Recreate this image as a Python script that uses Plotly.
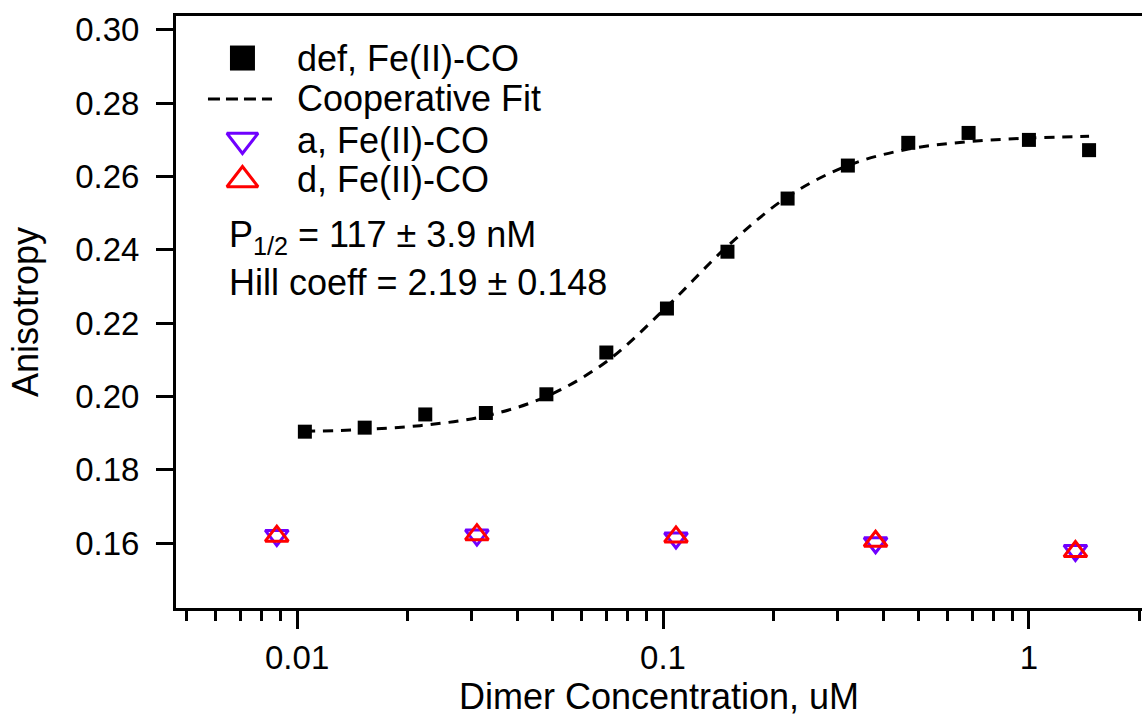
import plotly.graph_objects as go

# Dimer concentration (uM) for the def titration and its anisotropy readings
conc_def = [0.0105, 0.0153, 0.0224, 0.0328, 0.048, 0.070, 0.1025, 0.150,
            0.219, 0.320, 0.468, 0.684, 1.0, 1.46]
aniso_def = [0.1904, 0.1915, 0.1951, 0.1955, 0.2006, 0.2120, 0.2240, 0.2395,
             0.2540, 0.2630, 0.2692, 0.2719, 0.2700, 0.2672]

# Cooperative (Hill) fit curve sampled at the titration points
fit_conc = conc_def
fit_aniso = [0.1905, 0.1910, 0.1922, 0.1947, 0.2000, 0.2095, 0.2245, 0.2410,
             0.2545, 0.2630, 0.2675, 0.2695, 0.2705, 0.2710]

# Control titrations (a and d variants)
conc_ctrl = [0.0088, 0.031, 0.1085, 0.381, 1.34]
aniso_a = [0.1621, 0.1622, 0.1614, 0.1601, 0.1580]
aniso_d = [0.1619, 0.1623, 0.1617, 0.1605, 0.1577]

legend_labels = ["def, Fe(II)-CO", "Cooperative Fit", "a, Fe(II)-CO", "d, Fe(II)-CO"]
fit_text = ["P<sub>1/2</sub> = 117 ± 3.9 nM", "Hill coeff = 2.19 ± 0.148"]

x_ticks = [0.01, 0.1, 1]
x_ticktext = ["0.01", "0.1", "1"]
x_minor = [m * d for d in (0.001, 0.01, 0.1, 1) for m in range(2, 10)]
y_ticks = [0.16, 0.18, 0.20, 0.22, 0.24, 0.26, 0.28, 0.30]

PURPLE = "#7000FF"
RED = "#FF0000"
FONT = "Liberation Sans, Arial, sans-serif"
TEXT_SIZE = 36

fig = go.Figure()

fig.add_trace(go.Scatter(x=fit_conc, y=fit_aniso, mode="lines", line_shape="spline",
                         line=dict(color="black", width=3, dash="10px,8px"),
                         showlegend=False))
fig.add_trace(go.Scatter(x=conc_def, y=aniso_def, mode="markers",
                         marker=dict(symbol="square", size=14, color="black"),
                         showlegend=False))
fig.add_trace(go.Scatter(x=conc_ctrl, y=aniso_a, mode="markers",
                         marker=dict(symbol="triangle-down-open", size=20, color=PURPLE,
                                     line=dict(width=3, color=PURPLE)),
                         showlegend=False))
fig.add_trace(go.Scatter(x=conc_ctrl, y=aniso_d, mode="markers",
                         marker=dict(symbol="triangle-up-open", size=20, color=RED,
                                     line=dict(width=3, color=RED)),
                         showlegend=False))

# Legend key drawn on an overlay axis spanning the plot area (0..1 both ways)
key_x = 0.0688
key_rows = [0.929, 0.860, 0.7905, 0.723]
fig.add_trace(go.Scatter(x=[key_x], y=[key_rows[0]], xaxis="x2", yaxis="y2", mode="markers",
                         marker=dict(symbol="square", size=25, color="black"), showlegend=False))
fig.add_trace(go.Scatter(x=[0.0331, 0.0994], y=[key_rows[1]] * 2, xaxis="x2", yaxis="y2",
                         mode="lines", line=dict(color="black", width=3, dash="12px,6px"),
                         showlegend=False))
fig.add_trace(go.Scatter(x=[key_x], y=[key_rows[2]], xaxis="x2", yaxis="y2", mode="markers",
                         marker=dict(symbol="triangle-down-open", size=27, color=PURPLE,
                                     line=dict(width=3, color=PURPLE)), showlegend=False))
fig.add_trace(go.Scatter(x=[key_x], y=[key_rows[3]], xaxis="x2", yaxis="y2", mode="markers",
                         marker=dict(symbol="triangle-up-open", size=27, color=RED,
                                     line=dict(width=3, color=RED)), showlegend=False))

annotations = []
for label, yy in zip(legend_labels, key_rows):
    annotations.append(dict(x=0.1232, y=yy, xref="paper", yref="paper", text=label,
                            showarrow=False, xanchor="left", yanchor="middle",
                            font=dict(family=FONT, size=TEXT_SIZE, color="black")))
for label, yy in zip(fit_text, [0.626, 0.549]):
    annotations.append(dict(x=0.0525, y=yy, xref="paper", yref="paper", text=label,
                            showarrow=False, xanchor="left", yanchor="middle",
                            font=dict(family=FONT, size=TEXT_SIZE, color="black")))

fig.update_layout(
    width=1142, height=719,
    margin=dict(l=176, r=0, t=16, b=111),
    paper_bgcolor="white", plot_bgcolor="white",
    font=dict(family=FONT, size=33, color="black"),
    annotations=annotations,
    xaxis=dict(
        type="log", range=[-2.331, 0.309],
        showgrid=False, zeroline=False,
        showline=True, linecolor="black", linewidth=3, mirror=True,
        ticks="outside", ticklen=18, tickwidth=3, tickcolor="black",
        tickmode="array", tickvals=x_ticks, ticktext=x_ticktext,
        tickfont=dict(family=FONT, size=33, color="black"),
        minor=dict(ticks="outside", ticklen=10, tickwidth=3, tickcolor="black",
                   tickmode="array", tickvals=x_minor, showgrid=False),
        title=dict(text="Dimer Concentration, uM",
                   font=dict(family=FONT, size=36, color="black"), standoff=4),
    ),
    yaxis=dict(
        range=[0.1423, 0.3038],
        showgrid=False, zeroline=False,
        showline=True, linecolor="black", linewidth=3,
        ticks="outside", ticklen=17, tickwidth=3, tickcolor="black",
        tickmode="array", tickvals=y_ticks, tickformat=".2f",
        ticklabelstandoff=10,
        tickfont=dict(family=FONT, size=33, color="black"),
        title=dict(text="Anisotropy", font=dict(family=FONT, size=36, color="black"),
                   standoff=26),
    ),
    xaxis2=dict(overlaying="x", range=[0, 1], visible=False, anchor="y2"),
    yaxis2=dict(overlaying="y", range=[0, 1], visible=False, anchor="x2"),
)

fig.write_html("out.html")
